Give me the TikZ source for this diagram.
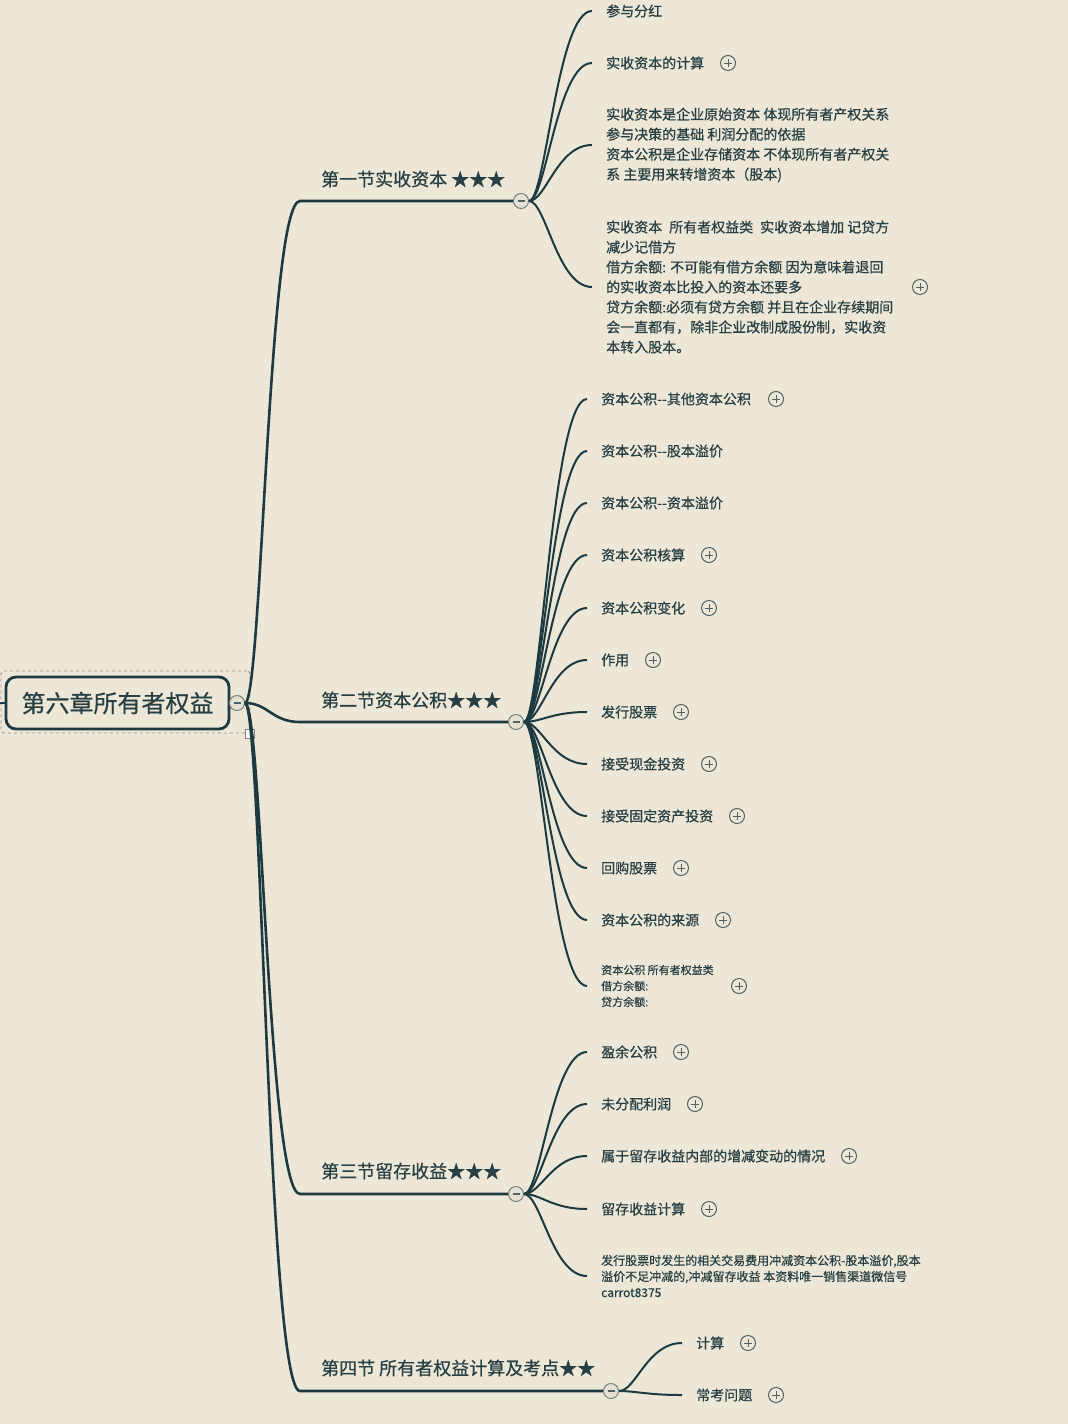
\documentclass[tikz,border=0pt]{standalone}
\usepackage{fontspec}
\setmainfont{Noto Sans CJK SC}[FakeBold=0.6]
\usetikzlibrary{calc}
\definecolor{bgc}{HTML}{EDE7D8}
\definecolor{ln}{HTML}{1C3A40}
\definecolor{tx}{HTML}{283F44}
\definecolor{ic}{HTML}{52615F}
\definecolor{mfill}{HTML}{E6E1D3}
\tikzset{
  leafnode/.style={anchor=west, inner xsep=14pt, inner ysep=0pt, text=tx,
    font=\fontsize{14}{20}\selectfont, align=left},
  smallleaf/.style={leafnode, font=\fontsize{11}{16}\selectfont},
  smallleafb/.style={leafnode, font=\fontsize{12}{16}\selectfont},
  sechead/.style={anchor=west, inner sep=0pt, text=tx, font=\fontsize{18}{22}\selectfont},
  leafline/.style={draw=ln, line width=2pt},
  mainline/.style={draw=ln, line width=2.6pt},
  plusic/.style={circle, draw=ic, line width=1pt, minimum size=15pt, inner sep=0pt,
    path picture={\draw[ic, line width=1pt]
      ([xshift=-4pt]path picture bounding box.center) -- ([xshift=4pt]path picture bounding box.center)
      ([yshift=-4pt]path picture bounding box.center) -- ([yshift=4pt]path picture bounding box.center);}},
  minusic/.style={circle, draw=ic!80, fill=mfill, line width=1pt, minimum size=15pt, inner sep=0pt,
    path picture={\draw[ic, line width=1.3pt]
      ([xshift=-3.5pt]path picture bounding box.center) -- ([xshift=3.5pt]path picture bounding box.center);}},
  rootbox/.style={draw=ln, line width=2.8pt, rounded corners=10pt, minimum width=223pt,
    minimum height=52pt, text=tx, font=\fontsize{24}{28}\selectfont, inner sep=0pt},
  selbox/.style={draw=gray!85, dashed, line width=0.9pt, rounded corners=3pt,
    minimum width=249pt, minimum height=62pt, inner sep=0pt},
  handle/.style={draw=gray, fill=white, line width=0.9pt, minimum size=9pt, inner sep=0pt},
}
\newcommand{\leafcurve}[2]{\draw[leafline] (#1) .. controls ($(#1)+(25,0)$) and ($(#2.west)+(-35,0)$) .. (#2.west);}
\begin{document}
\begin{tikzpicture}[x=1pt,y=-1pt]
\fill[bgc] (0,0) rectangle (1068,1424);
\useasboundingbox (0,0) rectangle (1068,1424);

% root
\node[selbox] (sel) at (125.5,702) {};
\node[rootbox] (root) at (117.5,703) {第六章所有者权益};
\node[handle] (hd) at (250,734) {};
\node[minusic] (rm) at (237,703) {};
\coordinate (lstub) at (0,703);
\draw[mainline] (lstub) -- (root.west);

% section headings and collapse circles
\node[sechead] (h1) at (321,179) {第一节实收资本 ★★★};
\node[sechead] (h2) at (321,700) {第二节资本公积★★★};
\node[sechead] (h3) at (321,1171) {第三节留存收益★★★};
\node[sechead] (h4) at (321,1368) {第四节 所有者权益计算及考点★★};
\coordinate (b1) at (300,201);
\coordinate (b2) at (300,722);
\coordinate (b3) at (300,1194);
\coordinate (b4) at (300,1391);
\node[minusic] (m1) at (521,201) {};
\node[minusic] (m2) at (516,722) {};
\node[minusic] (m3) at (516,1194) {};
\node[minusic] (m4) at (611,1391) {};

\draw[mainline] (rm) .. controls (262,703) and (268,201) .. (b1) -- (m1);
\draw[mainline] (rm) .. controls (268,703) and (272,722) .. (b2) -- (m2);
\draw[mainline] (rm) .. controls (262,703) and (268,1194) .. (b3) -- (m3);
\draw[mainline] (rm) .. controls (262,703) and (268,1391) .. (b4) -- (m4);

% section 1 leaves
\node[leafnode] (l11) at (592,11) {参与分红};
\node[leafnode] (l12) at (592,63) {实收资本的计算};
\node[leafnode] (l13) at (592,145) {实收资本是企业原始资本 体现所有者产权关系\\参与决策的基础 利润分配的依据\\资本公积是企业存储资本 不体现所有者产权关\\系 主要用来转增资本（股本)};
\node[leafnode] (l14) at (592,287) {实收资本\hspace{0.5em}所有者权益类\hspace{0.5em}实收资本增加 记贷方\\减少记借方\\借方余额: 不可能有借方余额 因为意味着退回\\的实收资本比投入的资本还要多\\贷方余额:必须有贷方余额 并且在企业存续期间\\会一直都有，除非企业改制成股份制，实收资\\本转入股本。};
\node[plusic] (p12) at (728,63) {};
\node[plusic] (p14) at (920,287) {};
\leafcurve{m1}{l11}
\leafcurve{m1}{l12}
\leafcurve{m1}{l13}
\leafcurve{m1}{l14}

% section 2 leaves
\node[leafnode] (l21) at (587,399) {资本公积-{}-其他资本公积};
\node[leafnode] (l22) at (587,451) {资本公积-{}-股本溢价};
\node[leafnode] (l23) at (587,503) {资本公积-{}-资本溢价};
\node[leafnode] (l24) at (587,555) {资本公积核算};
\node[leafnode] (l25) at (587,608) {资本公积变化};
\node[leafnode] (l26) at (587,660) {作用};
\node[leafnode] (l27) at (587,712) {发行股票};
\node[leafnode] (l28) at (587,764) {接受现金投资};
\node[leafnode] (l29) at (587,816) {接受固定资产投资};
\node[leafnode] (l210) at (587,868) {回购股票};
\node[leafnode] (l211) at (587,920) {资本公积的来源};
\node[smallleaf] (l212) at (587,986) {资本公积 所有者权益类\\借方余额:\\贷方余额:};
\node[plusic] (p21) at (776,399) {};
\node[plusic] (p24) at (709,555) {};
\node[plusic] (p25) at (709,608) {};
\node[plusic] (p26) at (653,660) {};
\node[plusic] (p27) at (681,712) {};
\node[plusic] (p28) at (709,764) {};
\node[plusic] (p29) at (737,816) {};
\node[plusic] (p210) at (681,868) {};
\node[plusic] (p211) at (723,920) {};
\node[plusic] (p212) at (739,986) {};
\foreach \t in {l21,l22,l23,l24,l25,l26,l27,l28,l29,l210,l211,l212} {\leafcurve{m2}{\t}}

% section 3 leaves
\node[leafnode] (l31) at (587,1052) {盈余公积};
\node[leafnode] (l32) at (587,1104) {未分配利润};
\node[leafnode] (l33) at (587,1156) {属于留存收益内部的增减变动的情况};
\node[leafnode] (l34) at (587,1209) {留存收益计算};
\node[smallleafb] (l35) at (587,1276) {发行股票时发生的相关交易费用冲减资本公积-股本溢价,股本\\溢价不足冲减的,冲减留存收益 本资料唯一销售渠道微信号\\carrot8375};
\node[plusic] (p31) at (681,1052) {};
\node[plusic] (p32) at (695,1104) {};
\node[plusic] (p33) at (849,1156) {};
\node[plusic] (p34) at (709,1209) {};
\foreach \t in {l31,l32,l33,l34,l35} {\leafcurve{m3}{\t}}

% section 4 leaves
\node[leafnode] (l41) at (682,1343) {计算};
\node[leafnode] (l42) at (682,1395) {常考问题};
\node[plusic] (p41) at (748,1343) {};
\node[plusic] (p42) at (776,1395) {};
\leafcurve{m4}{l41}
\leafcurve{m4}{l42}
\end{tikzpicture}
\end{document}
